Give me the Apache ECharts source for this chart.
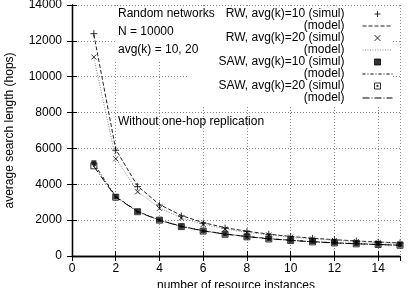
<!DOCTYPE html>
<html>
<head>
<meta charset="utf-8">
<script src="https://cdn.jsdelivr.net/npm/echarts@6/dist/echarts.min.js"></script>
<style>
  html, body { margin: 0; padding: 0; background: #fff; }
  #chart { width: 411px; height: 288px; }
</style>
</head>
<body>
<div id="chart"></div>
<script>
// number of resource instances
const instances = [1, 2, 3, 4, 5, 6, 7, 8, 9, 10, 11, 12, 13, 14, 15];

// average search length (hops)
const rw10Simul  = [12400, 5900, 3870, 2840, 2230, 1830, 1560, 1360, 1210, 1080, 980, 900, 830, 770, 720];
const rw10Model  = [12350, 5950, 3900, 2870, 2260, 1860, 1580, 1380, 1220, 1090, 990, 910, 840, 780, 730];
const rw20Simul  = [11100, 5420, 3580, 2660, 2120, 1760, 1500, 1310, 1170, 1050, 950, 870, 810, 750, 700];
const rw20Model  = [11050, 5450, 3600, 2680, 2130, 1770, 1510, 1320, 1170, 1050, 960, 880, 810, 760, 710];
const saw10Simul = [5200, 3300, 2480, 2010, 1650, 1400, 1220, 1080, 960, 870, 800, 740, 690, 650, 610];
const saw10Model = [5150, 3320, 2490, 2000, 1660, 1410, 1230, 1090, 970, 880, 800, 740, 690, 640, 600];
const saw20Simul = [5030, 3280, 2470, 2000, 1640, 1390, 1210, 1070, 950, 860, 790, 730, 680, 640, 600];
const saw20Model = [5000, 3290, 2470, 1990, 1650, 1400, 1220, 1080, 960, 870, 790, 730, 680, 640, 600];

// axes
const xMin = 0, xMax = 15, xStep = 2;
const yMin = 0, yMax = 14000, yStep = 2000;

const labels = ['Random networks', 'N = 10000', 'avg(k) = 10, 20'];
const note = 'Without one-hop replication';

const plusPath   = 'path://M0,5L10,5M5,0L5,10';
const crossPath  = 'path://M0,0L10,10M10,0L0,10';
const squarePath = 'path://M0,0L10,0L10,10L0,10Z';
const boxDotPath = 'path://M0,0L10,0L10,10L0,10Z M4,4L6,4L6,6L4,6Z';

const noMarker = { color: 'transparent', borderColor: 'transparent', borderWidth: 0 };

// legend keys, shown text, and icon overrides
const legendItems = [
  { name: 'RW, avg(k)=10 (simul)', text: 'RW, avg(k)=10 (simul)' },
  { name: 'rw10 model', text: '(model)', itemStyle: noMarker },
  { name: 'RW, avg(k)=20 (simul)', text: 'RW, avg(k)=20 (simul)' },
  { name: 'rw20 model', text: '(model)', itemStyle: noMarker },
  { name: 'SAW, avg(k)=10 (simul)', text: 'SAW, avg(k)=10 (simul)', icon: squarePath },
  { name: 'saw10 model', text: '(model)', itemStyle: noMarker },
  { name: 'SAW, avg(k)=20 (simul)', text: 'SAW, avg(k)=20 (simul)' },
  { name: 'saw20 model', text: '(model)', itemStyle: noMarker }
];
const legendText = {};
legendItems.forEach(d => { legendText[d.name] = d.text; });

const pairs = vals => instances.map((x, i) => [x, vals[i]]);

function simul(name, vals, symbol, size, filled) {
  return {
    name: name, type: 'scatter', data: pairs(vals),
    symbol: symbol, symbolSize: size,
    itemStyle: filled
      ? { color: '#000', borderColor: '#000', borderWidth: 0 }
      : { color: 'none', borderColor: '#000', borderWidth: 1 },
    z: 4
  };
}
function model(name, vals, color, dash) {
  return {
    name: name, type: 'line', data: pairs(vals),
    symbol: 'none',
    lineStyle: { color: color, width: 1, type: dash },
    itemStyle: { color: color },
    z: 3
  };
}

const chart = echarts.init(document.getElementById('chart'));

const option = {
  animation: false,
  textStyle: { fontFamily: 'Liberation Sans', color: '#000' },
  grid: { left: 72, right: 11, top: 5, bottom: 32, containLabel: false, outerBoundsMode: 'none' },
  xAxis: [{
    type: 'value', min: xMin, max: xMax, interval: xStep,
    name: 'number of resource instances', nameLocation: 'middle', nameGap: 24,
    nameTextStyle: { fontSize: 12, color: '#000' },
    axisLine: { lineStyle: { color: '#000', width: 1.3 } },
    axisTick: { inside: true, length: 5, lineStyle: { color: '#000' } },
    axisLabel: { fontSize: 12, color: '#000', margin: 7, showMaxLabel: false },
    splitLine: { show: true, lineStyle: { color: '#888', type: [1, 2], width: 1 } }
  }, {
    type: 'value', min: xMin, max: xMax, interval: xStep, position: 'top',
    axisLine: { lineStyle: { color: '#000', width: 1.3 } },
    axisTick: { inside: true, length: 5, lineStyle: { color: '#000' } },
    axisLabel: { show: false }, splitLine: { show: false }
  }],
  yAxis: [{
    type: 'value', min: yMin, max: yMax, interval: yStep,
    name: 'average search length (hops)', nameLocation: 'middle', nameGap: 56,
    nameTextStyle: { fontSize: 12, color: '#000' },
    axisLine: { show: true, lineStyle: { color: '#000', width: 1.3 } },
    axisTick: { show: true, inside: true, length: 5, lineStyle: { color: '#000' } },
    axisLabel: { fontSize: 12, color: '#000', margin: 10, formatter: v => String(v) },
    splitLine: { show: true, lineStyle: { color: '#888', type: [1, 2], width: 1 } }
  }, {
    type: 'value', min: yMin, max: yMax, interval: yStep, position: 'right',
    axisLine: { show: true, lineStyle: { color: '#000', width: 1.3 } },
    axisTick: { show: true, inside: true, length: 5, lineStyle: { color: '#000' } },
    axisLabel: { show: false }, splitLine: { show: false }
  }],
  legend: {
    orient: 'vertical', align: 'right',
    right: 18, top: 8, padding: 0,
    itemWidth: 30, itemHeight: 6, itemGap: 0,
    selectedMode: false,
    textStyle: { fontSize: 12, color: '#000', lineHeight: 11, padding: [0, 13, 0, 0] },
    itemStyle: { borderWidth: 1 },
    lineStyle: { width: 1 },
    formatter: name => legendText[name],
    data: legendItems.map(d => {
      const item = { name: d.name };
      if (d.icon) item.icon = d.icon;
      if (d.itemStyle) item.itemStyle = d.itemStyle;
      return item;
    })
  },
  graphic: [
    // opaque background behind the text block and key
    { type: 'rect', z: 1, silent: true, shape: { x: 115, y: 6, width: 278, height: 54 }, style: { fill: '#fff' } },
    { type: 'rect', z: 1, silent: true, shape: { x: 187, y: 60, width: 206, height: 45 }, style: { fill: '#fff' } },
    { type: 'text', z: 5, left: 118, top: 8, style: { text: labels[0], font: '12px "Liberation Sans"', fill: '#000' } },
    { type: 'text', z: 5, left: 118, top: 26, style: { text: labels[1], font: '12px "Liberation Sans"', fill: '#000' } },
    { type: 'text', z: 5, left: 118, top: 44, style: { text: labels[2], font: '12px "Liberation Sans"', fill: '#000' } },
    { type: 'text', z: 5, left: 118, top: 116, style: { text: note, font: '12px "Liberation Sans"', fill: '#000' } }
  ],
  series: [
    simul('RW, avg(k)=10 (simul)', rw10Simul, plusPath, 7, false),
    model('rw10 model', rw10Model, '#222', [4, 2]),
    simul('RW, avg(k)=20 (simul)', rw20Simul, crossPath, 5, false),
    model('rw20 model', rw20Model, '#888', [1, 1.5]),
    simul('SAW, avg(k)=10 (simul)', saw10Simul, 'rect', 5, true),
    model('saw10 model', saw10Model, '#000', [3, 2, 1, 2]),
    simul('SAW, avg(k)=20 (simul)', saw20Simul, boxDotPath, 6, false),
    model('saw20 model', saw20Model, '#000', [7, 2, 1, 2])
  ]
};

chart.setOption(option);
</script>
</body>
</html>
